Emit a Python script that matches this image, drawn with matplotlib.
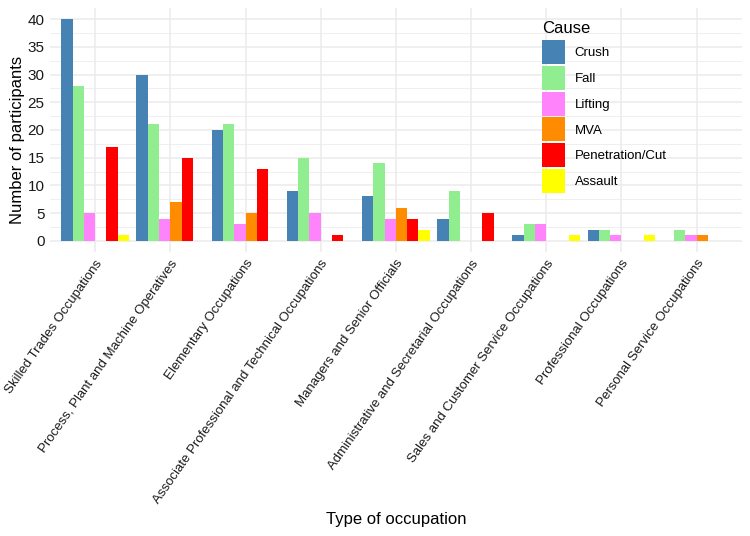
import matplotlib
matplotlib.use("Agg")
import matplotlib.pyplot as plt
import matplotlib.patches as patches
import numpy as np

plt.rcParams['font.family'] = ['Liberation Sans', 'DejaVu Sans']

occupations = [
    "Skilled Trades Occupations",
    "Process, Plant and Machine Operatives",
    "Elementary Occupations",
    "Associate Professional and Technical Occupations",
    "Managers and Senior Officials",
    "Administrative and Secretarial Occupations",
    "Sales and Customer Service Occupations",
    "Professional Occupations",
    "Personal Service Occupations",
]
causes = ["Crush", "Fall", "Lifting", "MVA", "Penetration/Cut", "Assault"]
colors = ["#4682B4", "#90EE90", "#FF83FA", "#FF8C00", "#FF0000", "#FFFF00"]

# None = no bar for that cause
crush   = [40, 30, 20, 9, 8, 4, 1, 2, None]
fall    = [28, 21, 21, 15, 14, 9, 3, 2, 2]
lifting = [5, 4, 3, 5, 4, None, 3, 1, 1]
mva     = [None, 7, 5, None, 6, None, None, None, 1]
pen_cut = [17, 15, 13, 1, 4, 5, None, None, None]
assault = [1, None, None, None, 2, None, 1, 1, None]
series = [crush, fall, lifting, mva, pen_cut, assault]

fig = plt.figure(figsize=(7.5, 5.36), dpi=100)
ax = fig.add_axes([0.0667, 0.530, 0.9223, 0.455])

x = np.arange(len(occupations))
bw = 0.9 / len(causes)
for i, (vals, c) in enumerate(zip(series, colors)):
    xs = [xi + (i - 2.5) * bw for xi, v in zip(x, vals) if v is not None]
    hs = [v for v in vals if v is not None]
    ax.bar(xs, hs, width=bw, color=c, linewidth=0, zorder=3)

ax.set_xlim(-0.6, len(occupations) - 0.4)
ax.set_ylim(-2, 42)
ax.set_yticks(np.arange(0, 41, 5))
ax.set_yticks(np.arange(2.5, 41, 5), minor=True)
ax.set_xticks(x)
ax.set_xticklabels(occupations, rotation=55, ha='right', va='top',
                   rotation_mode='anchor', fontsize=9.5, color='#1a1a1a')
ax.tick_params(axis='y', labelsize=11, labelcolor='#1a1a1a')
ax.tick_params(length=0, pad=4, which='both')
ax.grid(which='major', color='#EBEBEB', linewidth=1.1, zorder=0)
ax.grid(which='minor', axis='y', color='#EBEBEB', linewidth=0.55, zorder=0)
for s in ax.spines.values():
    s.set_visible(False)

fig.text(0.024, 0.738, "Number of participants", fontsize=12, rotation=90,
         ha='center', va='center')
fig.text(0.528, 0.030, "Type of occupation", fontsize=12, ha='center', va='center')

# legend
handles = [patches.Patch(facecolor=c, edgecolor='none') for c in colors]
leg = ax.legend(handles, causes, title="Cause", loc='upper left',
                bbox_to_anchor=(0.711, 0.946), frameon=False, fontsize=9.5,
                title_fontsize=12, handlelength=1.74, handleheight=2.42,
                labelspacing=0.13, handletextpad=0.75, borderpad=0,
                borderaxespad=0)
leg._legend_box.align = "left"
leg._legend_box.sep = 3

fig.savefig("out.png", dpi=100)
